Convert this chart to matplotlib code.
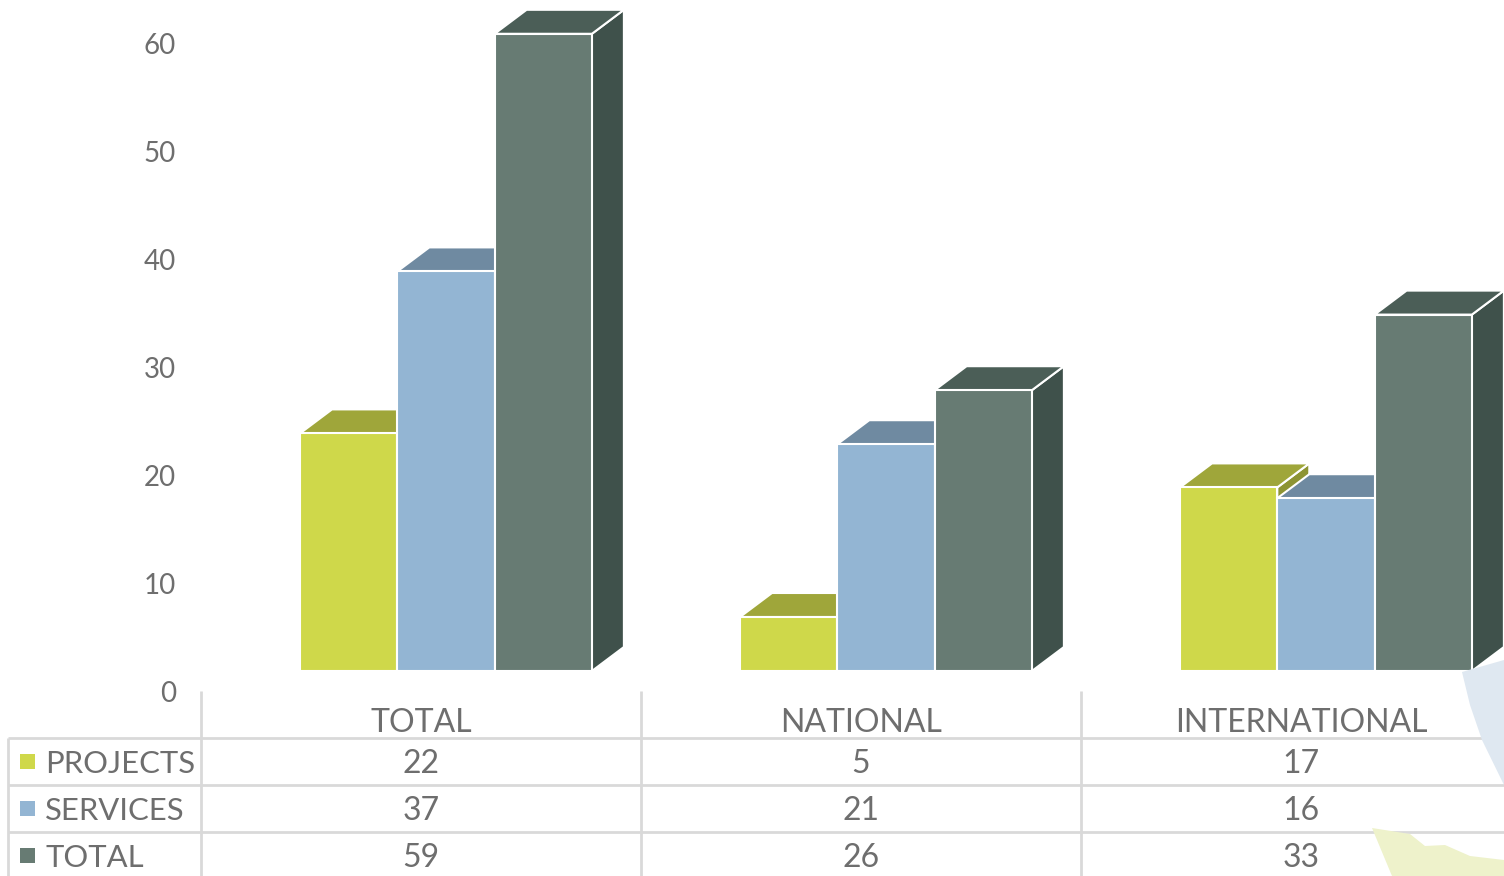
import matplotlib
matplotlib.use("Agg")
import matplotlib.pyplot as plt
from matplotlib.patches import Polygon, Rectangle
from matplotlib.transforms import ScaledTranslation

# ---- data ----
categories = ["TOTAL", "NATIONAL", "INTERNATIONAL"]
series_names = ["PROJECTS", "SERVICES", "TOTAL"]
projects = [22, 5, 17]
services = [37, 21, 16]
totals = [59, 26, 33]
yticks = [0, 10, 20, 30, 40, 50, 60]

values = [projects, services, totals]
front_colors = ["#cfd84a", "#93b5d3", "#677b73"]
top_colors = ["#9fa63a", "#6f8aa1", "#4b5e57"]
side_colors = ["#8d9433", "#5f778c", "#3f514b"]

plt.rcParams['font.family'] = ['Lato', 'DejaVu Sans']
TXT = "#6e6e6e"
GRID = "#d9d9d9"

W, H = 1504, 876
fig = plt.figure(figsize=(W / 100, H / 100), dpi=100)
fig.patch.set_facecolor("white")

# decorative background shapes (bottom right)
blue_shape = Polygon([(1462 / W, 1 - 672 / H), (1470 / W, 1 - 705 / H), (1482 / W, 1 - 740 / H),
                      (1504 / W, 1 - 785 / H), (1504 / W, 1 - 660 / H)],
                     closed=True, transform=fig.transFigure, facecolor="#dfe8f1", edgecolor="none", zorder=0)
yellow_shape = Polygon([(1372 / W, 1 - 828 / H), (1410 / W, 1 - 834 / H), (1425 / W, 1 - 846 / H),
                        (1445 / W, 1 - 845 / H), (1470 / W, 1 - 856 / H), (1504 / W, 1 - 860 / H),
                        (1504 / W, 0), (1392 / W, 0)],
                       closed=True, transform=fig.transFigure, facecolor="#eef2cb", edgecolor="none", zorder=0)
fig.patches.extend([blue_shape, yellow_shape])

# ---- main 3D-look bar axes ----
cat_px = 440.0          # pixels per category
val_px = 10.8           # pixels per unit value
ax_left, ax_front0 = 201, 671
ax = fig.add_axes([ax_left / W, (H - ax_front0) / H, (W - ax_left) / W, ax_front0 / H])
ax.set_xlim(0, (W - ax_left) / cat_px)
ax.set_ylim(0, ax_front0 / val_px)
ax.patch.set_alpha(0)
for s in ax.spines.values():
    s.set_visible(False)
ax.set_xticks([])
ax.set_yticks(yticks)
ax.set_yticklabels([str(t) for t in yticks], fontsize=20, color=TXT)
ax.tick_params(axis='y', length=0, pad=18)
for lbl in ax.get_yticklabels():
    lbl.set_transform(lbl.get_transform() + ScaledTranslation(0, -20 / 100, fig.dpi_scale_trans))

bar_w = 97.3 / cat_px
start = 99 / cat_px
dx = 32 / cat_px
dy = 24 / val_px

for i in range(len(categories)):
    for j in range(len(values)):
        v = values[j][i]
        x0 = i + start + j * bar_w
        x1 = x0 + bar_w
        side = Polygon([(x1, 0), (x1 + dx, dy), (x1 + dx, v + dy), (x1, v)], closed=True,
                       facecolor=side_colors[j], edgecolor="white", lw=1.5, joinstyle="miter")
        top = Polygon([(x0, v), (x0 + dx, v + dy), (x1 + dx, v + dy), (x1, v)], closed=True,
                      facecolor=top_colors[j], edgecolor="white", lw=1.5, joinstyle="miter")
        front = Rectangle((x0, 0), bar_w, v, facecolor=front_colors[j], edgecolor="white", lw=1.5)
        for p in (side, top, front):
            ax.add_patch(p)

# ---- data table ----
tab_top = 691
row_px = 47.0
tab = fig.add_axes([0, 0, 1, (H - tab_top) / H])
tab.set_xlim(-ax_left / cat_px, (W - ax_left) / cat_px)
tab.set_ylim((H - tab_top) / row_px, 0)
tab.axis("off")
tab.patch.set_alpha(0)

left_x = (8 - ax_left) / cat_px
right_x = (W - ax_left) / cat_px
ybot = (H - tab_top) / row_px
for k in range(len(categories)):
    tab.plot([k, k], [0, ybot], color=GRID, lw=2, solid_capstyle="butt")
tab.plot([left_x, left_x], [1, ybot], color=GRID, lw=2, solid_capstyle="butt")
for r in range(1, 4):
    tab.plot([left_x, right_x], [r, r], color=GRID, lw=2, solid_capstyle="butt")

for k, c in enumerate(categories):
    tab.text(k + 0.5, 0.68, c, ha="center", va="center", fontsize=23, color=TXT)

key_x = (20 - ax_left) / cat_px
key_w = 15 / cat_px
key_h = 15 / row_px
label_x = (45 - ax_left) / cat_px
for j, name in enumerate(series_names):
    yc = j + 1.5
    tab.add_patch(Rectangle((key_x, yc - key_h / 2), key_w, key_h, facecolor=front_colors[j], edgecolor="none"))
    tab.text(label_x, yc + 0.05, name, ha="left", va="center", fontsize=22.3, color=TXT)
    for k in range(len(categories)):
        tab.text(k + 0.5, yc + 0.05, str(values[j][k]), ha="center", va="center", fontsize=23, color=TXT)

fig.savefig("out.png", dpi=100)
